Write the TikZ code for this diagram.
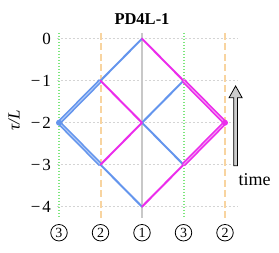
\documentclass[tikz,border=0pt]{standalone}
\usepackage{fontspec}
\setmainfont{Liberation Serif}
\usetikzlibrary{calc}
\definecolor{lineblue}{RGB}{100,149,237}
\definecolor{linemag}{RGB}{235,45,235}
\definecolor{gridgray}{RGB}{212,212,212}
\definecolor{vgreen}{RGB}{125,230,125}
\definecolor{vorange}{RGB}{248,212,160}
\definecolor{vgray}{RGB}{200,200,200}
\definecolor{arrowfill}{RGB}{205,205,205}
\begin{document}
\begin{tikzpicture}[x=1pt,y=1pt,
  gridline/.style={draw=gridgray,line width=0.6pt,dash pattern=on 2.5pt off 1.5pt},
  vlinegreen/.style={draw=vgreen,line width=2pt,dash pattern=on 1.3pt off 1.7pt},
  vlineorange/.style={draw=vorange,line width=2pt,dash pattern=on 7pt off 3.5pt},
  vlinegray/.style={draw=vgray,line width=2pt},
  bluesingle/.style={draw=lineblue,line width=2pt,line cap=round,line join=round},
  magsingle/.style={draw=linemag,line width=2pt,line cap=round,line join=round},
  bluedouble/.style={draw=lineblue,line width=1.6pt,double=lineblue!50!white,double distance=1pt,line join=round},
  magdouble/.style={draw=linemag,line width=1.6pt,double=linemag!50!white,double distance=1pt,line join=round},
  ticklab/.style={anchor=east,inner sep=0pt,font=\fontsize{17}{19}\selectfont},
  circnum/.style={circle,draw=black,line width=0.8pt,minimum size=16.5pt,inner sep=0pt,font=\fontsize{14}{15}\selectfont},
]
\useasboundingbox (0,0) rectangle (279,253);
\begin{scope}[x=41.5pt,y=42pt,shift={(59pt,214.3pt)}]
  % horizontal grid
  \foreach \t in {0,-1,-2,-3,-4} {
    \coordinate (gl\t) at (-0.05,\t);
    \coordinate (gr\t) at (4.29,\t);
    \draw[gridline] (gl\t) -- (gr\t);
  }
  % vertical lines
  \foreach \u/\s in {0/vlinegreen,1/vlineorange,2/vlinegray,3/vlinegreen,4/vlineorange} {
    \coordinate (vt\u) at (\u,0.14);
    \coordinate (vb\u) at (\u,-4.27);
    \draw[\s] (vt\u) -- (vb\u);
  }
  % tick labels
  \node[ticklab] (t0) at (-0.19,0) {0};
  \node[ticklab] (t1) at (-0.19,-1) {−\kern2pt1};
  \node[ticklab] (t2) at (-0.19,-2) {−\kern2pt2};
  \node[ticklab] (t3) at (-0.19,-3) {−\kern2pt3};
  \node[ticklab] (t4) at (-0.19,-4) {−\kern2pt4};
  % circled labels
  \node[circnum] (n0) at (0,-4.62) {3};
  \node[circnum] (n1) at (1,-4.62) {2};
  \node[circnum] (n2) at (2,-4.62) {1};
  \node[circnum] (n3) at (3,-4.62) {3};
  \node[circnum] (n4) at (4,-4.62) {2};
  % lattice points
  \coordinate (T) at (2,0);
  \coordinate (UL) at (1,-1);
  \coordinate (UR) at (3,-1);
  \coordinate (L) at (0,-2);
  \coordinate (C) at (2,-2);
  \coordinate (R) at (4,-2);
  \coordinate (DL) at (1,-3);
  \coordinate (DR) at (3,-3);
  \coordinate (B) at (2,-4);
  % blue lines
  \draw[bluesingle] (T) -- (UL);
  \draw[bluesingle] (DL) -- (B);
  \draw[bluesingle] (UR) -- (C) -- (DR);
  \draw[bluedouble] (UL) -- (L) -- (DL);
  % magenta lines
  \draw[magsingle] (T) -- (UR);
  \draw[magsingle] (DR) -- (B);
  \draw[magsingle] (UL) -- (C) -- (DL);
  \draw[magdouble] (UR) -- (R) -- (DR);
  % corner dots
  \fill[lineblue] (L) circle[radius=3pt];
  \fill[linemag] (R) circle[radius=3pt];
\end{scope}
% title
\node[font=\bfseries\fontsize{16.5}{18}\selectfont] (title) at (142,234) {PD4L-1};
% axis label
\node[rotate=90,font=\itshape\fontsize{17}{19}\selectfont] (ylab) at (14,133) {τ/L};
% time arrow
\coordinate (ab) at (235.6,87.3);
\draw[fill=arrowfill,draw=black,line width=0.8pt,line join=miter]
  ($(ab)+(-1.9,0)$) -- ++(0,68) -- ++(-4.6,0) -- (235.6,167) -- (242.1,155.3) -- ++(-4.6,0) -- ++(0,-68) -- cycle;
\node[anchor=base,font=\fontsize{18}{20}\selectfont] (time) at (254.5,67) {time};
\end{tikzpicture}
\end{document}
